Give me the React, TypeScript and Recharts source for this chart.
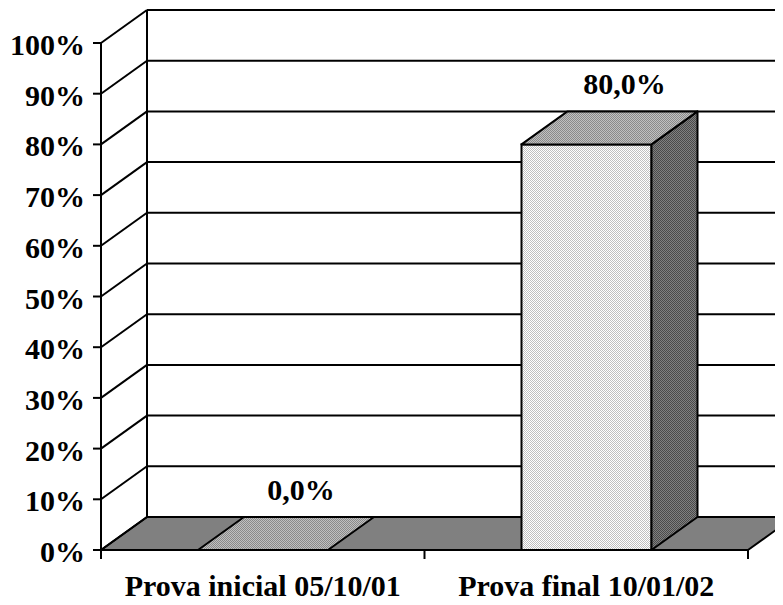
import React from "react";
import { BarChart, Bar, XAxis, YAxis, CartesianGrid, LabelList } from "recharts";

const categories = ["Prova inicial 05/10/01", "Prova final 10/01/02"];
const scores = [0, 0.8];
const yTicks = [0, 0.1, 0.2, 0.3, 0.4, 0.5, 0.6, 0.7, 0.8, 0.9, 1];

const data = categories.map((name, i) => ({ name, value: scores[i] }));

// depth offset of the 3D box
const DX = 46;
const DY = -33;
const FONT = "'Liberation Serif', 'Times New Roman', serif";

function Patterns() {
  return (
    <defs>
      <pattern id="pFront" width="2" height="2" patternUnits="userSpaceOnUse">
        <rect width="2" height="2" fill="#ffffff" />
        <rect width="1" height="1" fill="#c0c0c0" />
        <rect x="1" y="1" width="1" height="1" fill="#c0c0c0" />
      </pattern>
      <pattern id="pTop" width="2" height="2" patternUnits="userSpaceOnUse">
        <rect width="2" height="2" fill="#c0c0c0" />
        <rect width="1" height="1" fill="#8a8a8a" />
        <rect x="1" y="1" width="1" height="1" fill="#8a8a8a" />
      </pattern>
      <pattern id="pSide" width="2" height="2" patternUnits="userSpaceOnUse">
        <rect width="2" height="2" fill="#808080" />
        <rect width="1" height="1" fill="#4a4a4a" />
        <rect x="1" y="1" width="1" height="1" fill="#4a4a4a" />
      </pattern>
    </defs>
  );
}

function GridLine(props: any) {
  const { x1, y1, x2, y, height, index } = props;
  const bottom = Math.abs(y1 - (y + height)) < 0.5;
  const parts: React.ReactNode[] = [];
  if (bottom) {
    const n = categories.length;
    parts.push(
      <polygon
        key="floor"
        points={`${x1},${y1} ${x2},${y1} ${x2 + DX},${y1 + DY} ${x1 + DX},${y1 + DY}`}
        fill="#808080"
        stroke="#000"
        strokeWidth={2}
        strokeLinejoin="round"
      />
    );
    for (let i = 0; i <= n; i++) {
      const tx = x1 + ((x2 - x1) * i) / n;
      parts.push(<line key={"t" + i} x1={tx} y1={y1} x2={tx} y2={y1 + 9} stroke="#000" strokeWidth={2} />);
    }
    parts.push(
      <line key="bv" x1={x1 + DX} y1={y + DY} x2={x1 + DX} y2={y + height + DY} stroke="#000" strokeWidth={2} />
    );
  } else {
    parts.push(
      <line key="back" x1={x1 + DX} y1={y1 + DY} x2={x2 + DX} y2={y1 + DY} stroke="#000" strokeWidth={2} />
    );
  }
  parts.push(
    <line key="side" x1={x1} y1={y1} x2={x1 + DX} y2={y1 + DY} stroke="#000" strokeWidth={2} />
  );
  return <g key={"g" + index}>{parts}</g>;
}

function Box(props: any) {
  const { x, y, width, height } = props;
  const b = y + height;
  const r = x + width;
  return (
    <g>
      {height > 0 && (
        <>
          <rect x={x} y={y} width={width} height={height} fill="url(#pFront)" stroke="#000" strokeWidth={2} />
          <polygon
            points={`${r},${y} ${r + DX},${y + DY} ${r + DX},${b + DY} ${r},${b}`}
            fill="url(#pSide)"
            stroke="#000"
            strokeWidth={2}
            strokeLinejoin="round"
          />
        </>
      )}
      <polygon
        points={`${x},${y} ${r},${y} ${r + DX},${y + DY} ${x + DX},${y + DY}`}
        fill="url(#pTop)"
        stroke="#000"
        strokeWidth={2}
        strokeLinejoin="round"
      />
    </g>
  );
}

function ValueLabel(props: any) {
  const { x, y, width, value } = props;
  const text = (Number(value) * 100).toFixed(1).replace(".", ",") + "%";
  return (
    <text
      x={x + width / 2 + 38}
      y={y + DY - 17}
      textAnchor="middle"
      fontFamily={FONT}
      fontWeight="bold"
      fontSize={30}
      fill="#000"
    >
      {text}
    </text>
  );
}

function YTick(props: any) {
  const { x, y, payload } = props;
  return (
    <text x={x} y={y + 12} textAnchor="end" fontFamily={FONT} fontWeight="bold" fontSize={30} fill="#000">
      {`${Math.round(payload.value * 100)}%`}
    </text>
  );
}

export default function App() {
  return (
    <div style={{ width: 783, height: 605, margin: -8, background: "#fff" }}>
      <BarChart width={783} height={605} data={data} margin={{ top: 43, right: 35, left: 0, bottom: 0 }}>
        <Patterns />
        <CartesianGrid horizontal={(p: any) => <GridLine {...p} />} vertical={false} />
        <XAxis
          dataKey="name"
          height={55}
          axisLine={false}
          tickLine={false}
          tickSize={0}
          tickMargin={25}
          interval={0}
          tick={{ fill: "#000", fontFamily: FONT, fontWeight: "bold", fontSize: 30 }}
        />
        <YAxis
          width={101}
          domain={[0, 1]}
          ticks={yTicks}
          interval={0}
          axisLine={{ stroke: "#000", strokeWidth: 2 }}
          tickLine={{ stroke: "#000", strokeWidth: 2 }}
          tickSize={8}
          tickMargin={8}
          tick={<YTick />}
        />
        <Bar dataKey="value" barSize={130} shape={<Box />} isAnimationActive={false}>
          <LabelList dataKey="value" content={<ValueLabel />} />
        </Bar>
      </BarChart>
    </div>
  );
}
